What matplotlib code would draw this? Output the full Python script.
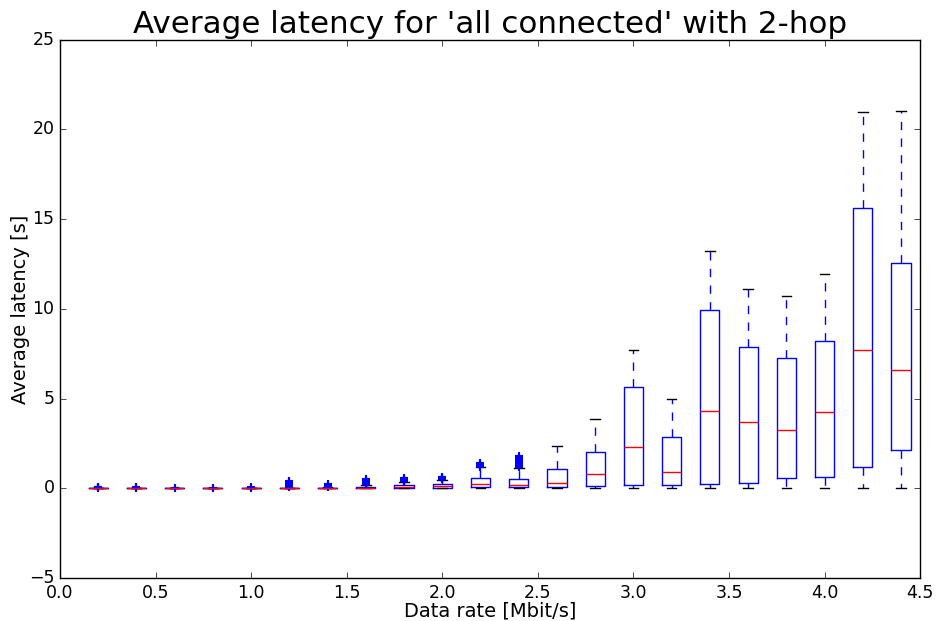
import matplotlib
matplotlib.use("Agg")
import matplotlib.pyplot as plt

plt.style.use('classic')
plt.rcParams['font.family'] = ['DejaVu Sans']

positions = [0.2, 0.4, 0.6, 0.8, 1.0, 1.2, 1.4, 1.6, 1.8, 2.0, 2.2,
             2.4, 2.6, 2.8, 3.0, 3.2, 3.4, 3.6, 3.8, 4.0, 4.2, 4.4]
q1 = [0.0, 0.0, 0.0, 0.0, 0.0, 0.0, 0.0, 0.0, 0.02, 0.03, 0.09,
      0.07, 0.10, 0.13, 0.18, 0.18, 0.26, 0.28, 0.57, 0.63, 1.17, 2.14]
med = [0.0, 0.0, 0.0, 0.0, 0.0, 0.005, 0.01, 0.04, 0.10, 0.13, 0.24,
       0.20, 0.31, 0.80, 2.32, 0.93, 4.29, 3.68, 3.27, 4.24, 7.71, 6.58]
q3 = [0.01, 0.01, 0.01, 0.01, 0.01, 0.02, 0.03, 0.08, 0.20, 0.24, 0.56,
      0.50, 1.07, 2.04, 5.67, 2.84, 9.93, 7.86, 7.27, 8.23, 15.63, 12.56]
whislo = [0.0] * 22
whishi = [0.02, 0.02, 0.02, 0.02, 0.02, 0.04, 0.06, 0.18, 0.35, 0.46, 1.20,
          1.15, 2.38, 3.86, 7.70, 4.98, 13.23, 11.10, 10.72, 11.93, 20.99, 21.02]
fliers = [[0.04, 0.06, 0.08, 0.1], [0.04, 0.05, 0.06], [0.04, 0.05], [0.04, 0.05],
          [0.03, 0.05, 0.07],
          [0.06, 0.1, 0.14, 0.18, 0.22, 0.26, 0.3, 0.34, 0.38, 0.42],
          [0.08, 0.12, 0.16, 0.2, 0.24],
          [0.22, 0.26, 0.3, 0.34, 0.38, 0.42, 0.46, 0.5],
          [0.4, 0.44, 0.48, 0.52, 0.56, 0.6],
          [0.5, 0.54, 0.58, 0.62, 0.66],
          [1.2, 1.24, 1.28, 1.32, 1.36, 1.4],
          [1.2, 1.26, 1.32, 1.38, 1.44, 1.5, 1.56, 1.62, 1.68, 1.74, 1.8],
          [], [], [], [], [], [], [], [], [], []]

stats = []
for i in range(len(positions)):
    stats.append(dict(med=med[i], q1=q1[i], q3=q3[i], whislo=whislo[i],
                      whishi=whishi[i], fliers=fliers[i]))

fig = plt.figure(figsize=(9.37, 6.21), dpi=100, facecolor='white')
ax = fig.add_axes([0.064, 0.069, 0.918, 0.867])
ax.set_facecolor('white')
ax.bxp(stats, positions=positions, widths=0.1, manage_ticks=False,
       boxprops=dict(color='blue'), medianprops=dict(color='red'),
       whiskerprops=dict(color='blue', linestyle='--'),
       capprops=dict(color='black'),
       flierprops=dict(marker='+', markeredgecolor='blue', markerfacecolor='blue',
                       linestyle='none', markersize=6, markeredgewidth=1.5))
ax.set_xlim(0, 4.5)
ax.set_ylim(-5, 25)
ax.set_xticks([0.0, 0.5, 1.0, 1.5, 2.0, 2.5, 3.0, 3.5, 4.0, 4.5])
ax.set_yticks([-5, 0, 5, 10, 15, 20, 25])
ax.tick_params(labelsize=12.5, direction='in', top=True, right=True, pad=4)
ax.set_xlabel('Data rate [Mbit/s]', fontsize=14, labelpad=0)
ax.set_ylabel('Average latency [s]', fontsize=14, labelpad=-1)
ax.set_title("Average latency for 'all connected' with 2-hop", fontsize=22.3)
fig.savefig('out.png', dpi=100, facecolor='white')
